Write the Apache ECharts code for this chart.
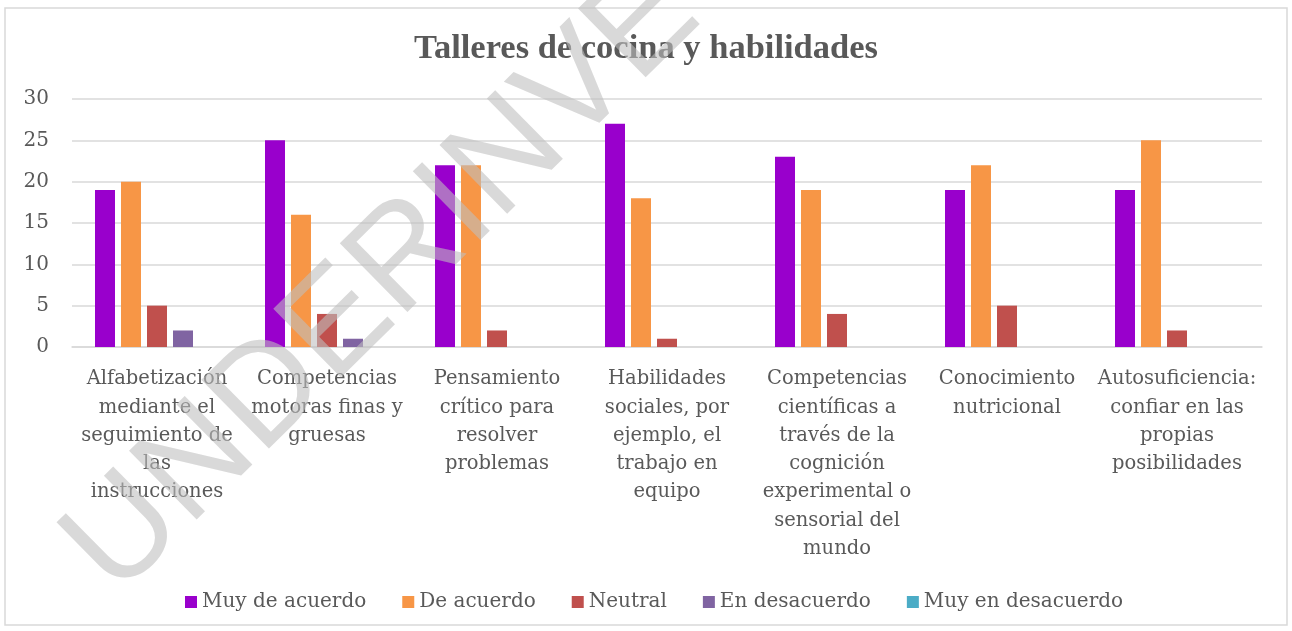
<!DOCTYPE html>
<html>
<head>
<meta charset="utf-8">
<script src="https://cdn.jsdelivr.net/npm/echarts@6/dist/echarts.min.js"></script>
<style>html,body{margin:0;padding:0;background:#fff;}#c{width:1292px;height:631px;}</style>
</head>
<body>
<div id="c"></div>
<script>
const titleText = 'Talleres de cocina y habilidades';
const categories = [
  'Alfabetización\nmediante el\nseguimiento de\nlas\ninstrucciones',
  'Competencias\nmotoras finas y\ngruesas',
  'Pensamiento\ncrítico para\nresolver\nproblemas',
  'Habilidades\nsociales, por\nejemplo, el\ntrabajo en\nequipo',
  'Competencias\ncientíficas a\ntravés de la\ncognición\nexperimental o\nsensorial del\nmundo',
  'Conocimiento\nnutricional',
  'Autosuficiencia:\nconfiar en las\npropias\nposibilidades'
];
const seriesNames = ['Muy de acuerdo', 'De acuerdo', 'Neutral', 'En desacuerdo', 'Muy en desacuerdo'];
const muyDeAcuerdo = [19, 25, 22, 27, 23, 19, 19];
const deAcuerdo = [20, 16, 22, 18, 19, 22, 25];
const neutral = [5, 4, 2, 1, 4, 5, 2];
const enDesacuerdo = [2, 1, 0, 0, 0, 0, 0];
const muyEnDesacuerdo = [0, 0, 0, 0, 0, 0, 0];
const seriesColors = ['#9900CC', '#F79646', '#C0504D', '#8064A2', '#4BACC6'];
const watermarkText = 'UNDERINVE';

const values = [muyDeAcuerdo, deAcuerdo, neutral, enDesacuerdo, muyEnDesacuerdo];
const FONT = '"DejaVu Serif", serif';
const TXT = '#595959';

const chart = echarts.init(document.getElementById('c'), null, {renderer: 'canvas'});
chart.setOption({
  animation: false,
  backgroundColor: '#fff',
  color: seriesColors,
  title: {
    text: titleText,
    left: 'center',
    top: 27,
    textStyle: {fontFamily: '"Liberation Serif", serif', fontWeight: 'bold', fontSize: 34.5, color: TXT}
  },
  legend: {
    bottom: 19,
    left: 185,
    icon: 'rect',
    itemWidth: 12,
    itemHeight: 12,
    itemGap: 36,
    padding: 0,
    data: seriesNames,
    textStyle: {fontFamily: FONT, fontSize: 20, color: TXT}
  },
  grid: {left: 72, right: 30, top: 99, bottom: 284, containLabel: false},
  xAxis: {
    type: 'category',
    data: categories,
    axisLine: {lineStyle: {color: '#d9d9d9', width: 1.5}},
    axisTick: {show: false},
    axisLabel: {fontFamily: FONT, fontSize: 19.5, color: TXT, lineHeight: 28.3, margin: 18, interval: 0}
  },
  yAxis: {
    type: 'value',
    min: 0, max: 30, interval: 5,
    axisLine: {show: false},
    axisTick: {show: false},
    splitLine: {lineStyle: {color: '#d9d9d9', width: 1.5}},
    axisLabel: {fontFamily: FONT, fontSize: 20, color: TXT, margin: 23}
  },
  series: seriesNames.map((n, i) => ({
    name: n,
    type: 'bar',
    data: values[i],
    barWidth: 20,
    barGap: '30%'
  })),
  graphic: [
    {
      type: 'rect',
      shape: {x: 5, y: 8, width: 1282, height: 617},
      style: {fill: 'none', stroke: '#d9d9d9', lineWidth: 1.5},
      z: 0, silent: true
    },
    {
      type: 'text',
      x: 89.5, y: 571,
      rotation: 0.778,
      z: 1000,
      silent: true,
      style: {
        text: watermarkText,
        fontFamily: '"Liberation Sans", Arial, sans-serif',
        fontSize: 140,
        fill: 'rgba(190,190,190,0.59)',
        align: 'left',
        verticalAlign: 'middle'
      }
    }
  ]
});
</script>
</body>
</html>
